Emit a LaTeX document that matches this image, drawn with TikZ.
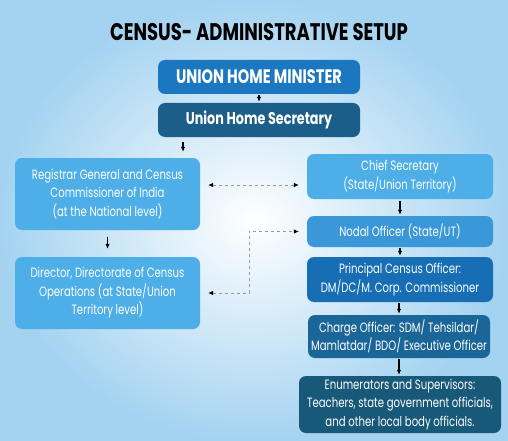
\documentclass[tikz,border=0pt]{standalone}
\usepackage{fontspec}
\setmainfont{Poppins}[FakeStretch=0.75]
\usepackage{tikz}
\usetikzlibrary{positioning,calc,arrows.meta}

\definecolor{bgblue}{HTML}{A4D3F1}
\definecolor{lightblue}{HTML}{4DAEE8}
\definecolor{nodalblue}{HTML}{3A98D8}
\definecolor{ministerblue}{HTML}{1B78C0}
\definecolor{principalblue}{HTML}{176EB4}
\definecolor{secretaryblue}{HTML}{1C5E8A}
\definecolor{chargeblue}{HTML}{1B6698}
\definecolor{enumblue}{HTML}{185878}
\definecolor{dashgray}{HTML}{9A9A9A}

\begin{document}
\begin{tikzpicture}[x=1pt, y=-1pt, >={Latex[length=5pt,width=4.5pt]},
   box/.style={rounded corners=7pt, text=white, align=center, inner sep=0pt,
      font=\fontsize{13.5}{18.5}\selectfont},
   headbox/.style={box, font=\fontsize{17}{20}\bfseries\selectfont},
   flow/.style={->, black, line width=1.1pt, shorten >=1pt, shorten <=1pt},
   link/.style={{Latex[length=5pt,width=4.5pt,color=black]}-{Latex[length=5pt,width=4.5pt,color=black]},
      dashgray, dashed, line width=0.8pt, shorten >=8pt, shorten <=8pt}]
   % Background
   \useasboundingbox (0,0) rectangle (508,441);
   \shade[inner color=white, outer color=bgblue] (0,0) rectangle (508,441);

   \node[font=\fontsize{24}{24}\bfseries\selectfont] (title) at (259,32) {CENSUS- ADMINISTRATIVE SETUP};

   % Union level
   \node[headbox, font=\fontsize{19.5}{20}\bfseries\selectfont, fill=ministerblue, minimum width=202pt, minimum height=34pt]
      (minister) at (259,77) {UNION HOME MINISTER};
   \node[headbox, fill=secretaryblue, minimum width=202pt, minimum height=34pt] (secretary) at (259,120) {Union Home Secretary};

   % Left column
   \node[box, fill=lightblue, minimum width=185pt, minimum height=72pt] (registrar) at (107.5,194)
      {Registrar General and Census\\Commissioner of India\\(at the National level)};
   \node[box, fill=lightblue, minimum width=185pt, minimum height=72pt] (director) at (107.5,293)
      {Director, Directorate of Census\\Operations (at State/Union\\Territory level)};

   % Right column
   \node[box, fill=lightblue, minimum width=186pt, minimum height=45pt] (chief) at (400,176.5)
      {Chief Secretary\\(State/Union Territory)};
   \node[box, fill=nodalblue, minimum width=186pt, minimum height=31pt] (nodal) at (400,231.5)
      {Nodal Officer (State/UT)};
   \node[box, fill=principalblue, minimum width=186pt, minimum height=45pt] (principal) at (400,279.5)
      {Principal Census Officer:\\DM/DC/M. Corp. Commissioner};
   \node[box, fill=chargeblue, minimum width=182pt, minimum height=43pt] (charge) at (399,336.5)
      {Charge Officer: SDM/ Tehsildar/\\Mamlatdar/ BDO/ Executive Officer};
   \node[box, fill=enumblue, minimum width=202pt, minimum height=57pt] (enum) at (400,404.5)
      {Enumerators and Supervisors:\\Teachers, state government officials,\\and other local body officials.};

   % Arrows
   \draw[flow] (minister) -- (secretary);
   \draw[flow, shorten <=5pt, shorten >=6pt] ([xshift=-76pt]secretary.south) -- ([xshift=-76pt]secretary.south |- registrar.north);
   \draw[flow, shorten <=7pt, shorten >=8pt] (registrar) -- (director);
   \draw[flow, shorten <=2pt] (chief) -- (nodal);
   \draw[flow] (nodal) -- (principal);
   \draw[flow] (principal.south -| charge.north) -- (charge);
   \draw[flow] (charge) -- (enum.north -| charge.south);

   % Dashed links
   \draw[link] ([yshift=9pt]registrar.east) -- ([yshift=9pt]registrar.east -| chief.west);
   \draw[link] (director.east) -- ++(49,0) |- (nodal.west);
\end{tikzpicture}
\end{document}
